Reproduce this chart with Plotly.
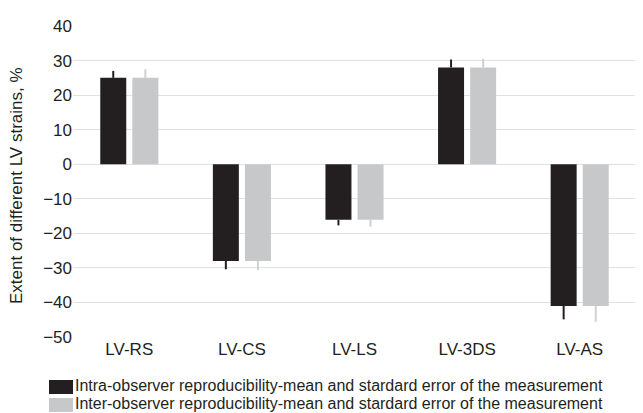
import plotly.graph_objects as go

categories = ["LV-RS", "LV-CS", "LV-LS", "LV-3DS", "LV-AS"]
intra_mean = [25.0, -28.0, -16.1, 28.0, -41.0]
intra_err = [2.0, 2.4, 1.6, 2.3, 3.9]
inter_mean = [25.0, -28.0, -16.1, 28.0, -41.0]
inter_err = [2.5, 2.7, 2.0, 2.5, 4.6]
legend_labels = [
    "Intra-observer reproducibility-mean and stardard error of the measurement",
    "Inter-observer reproducibility-mean and stardard error of the measurement",
]

BLACK = "#231f20"
GRAY = "#c7c8ca"
FONT = "Liberation Sans, Arial, sans-serif"
FS = 17


def up(vals, errs):
    return [e if v >= 0 else 0 for v, e in zip(vals, errs)]


def down(vals, errs):
    return [e if v < 0 else 0 for v, e in zip(vals, errs)]


fig = go.Figure()
fig.add_trace(go.Bar(
    x=categories, y=intra_mean, name=legend_labels[0], marker_color=BLACK,
    marker_line_width=0, showlegend=False,
    error_y=dict(type="data", symmetric=False, array=up(intra_mean, intra_err),
                 arrayminus=down(intra_mean, intra_err), color=BLACK,
                 thickness=2, width=0),
))
fig.add_trace(go.Bar(
    x=categories, y=inter_mean, name=legend_labels[1], marker_color=GRAY,
    marker_line_width=0, showlegend=False,
    error_y=dict(type="data", symmetric=False, array=up(inter_mean, inter_err),
                 arrayminus=down(inter_mean, inter_err), color="#d0d1d3",
                 thickness=2, width=0),
))

# figure is offset by the page's 8px body margin
FW, FH = 635, 405
W, H, L, T = 563, 311, 65, 18


def px(x):
    return (x - L) / W


def py(y):
    return (T + H - y) / H


shapes = []
annotations = []
swatch_top = [372, 390]
text_mid = [377.5, 395.5]
for i, (lab, col) in enumerate(zip(legend_labels, [BLACK, GRAY])):
    y0 = swatch_top[i]
    shapes.append(dict(type="rect", xref="paper", yref="paper",
                       x0=px(41), x1=px(65), y0=py(y0), y1=py(y0 + 14),
                       fillcolor=col, line_width=0))
    annotations.append(dict(xref="paper", yref="paper", x=px(66),
                            y=py(text_mid[i]),
                            text=lab, showarrow=False, xanchor="left",
                            yanchor="middle", borderpad=0,
                            font=dict(family=FONT, size=16, color=BLACK)))

annotations.append(dict(xref="paper", yref="paper", x=px(8), y=py(178),
                        text="Extent of different LV strains, %", textangle=-90,
                        showarrow=False, xanchor="center", yanchor="middle",
                        font=dict(family=FONT, size=FS, color=BLACK)))

fig.update_layout(
    width=FW, height=FH,
    margin=dict(l=L, r=FW - L - W, t=T, b=FH - T - H),
    paper_bgcolor="white", plot_bgcolor="white",
    barmode="group", bargap=0.43, bargroupgap=0.19,
    font=dict(family=FONT, size=FS, color=BLACK),
    shapes=shapes, annotations=annotations,
    xaxis=dict(showgrid=False, showline=False, ticks="", automargin=False,
               tickfont=dict(size=FS)),
    yaxis=dict(range=[-50, 40], dtick=10, showgrid=True, gridcolor="#e1e1e1",
               gridwidth=1, zeroline=True, zerolinecolor="#e1e1e1",
               zerolinewidth=1, showline=False, ticks="", automargin=False,
               tickfont=dict(size=FS)),
    showlegend=False,
)

fig.write_html("out.html")
